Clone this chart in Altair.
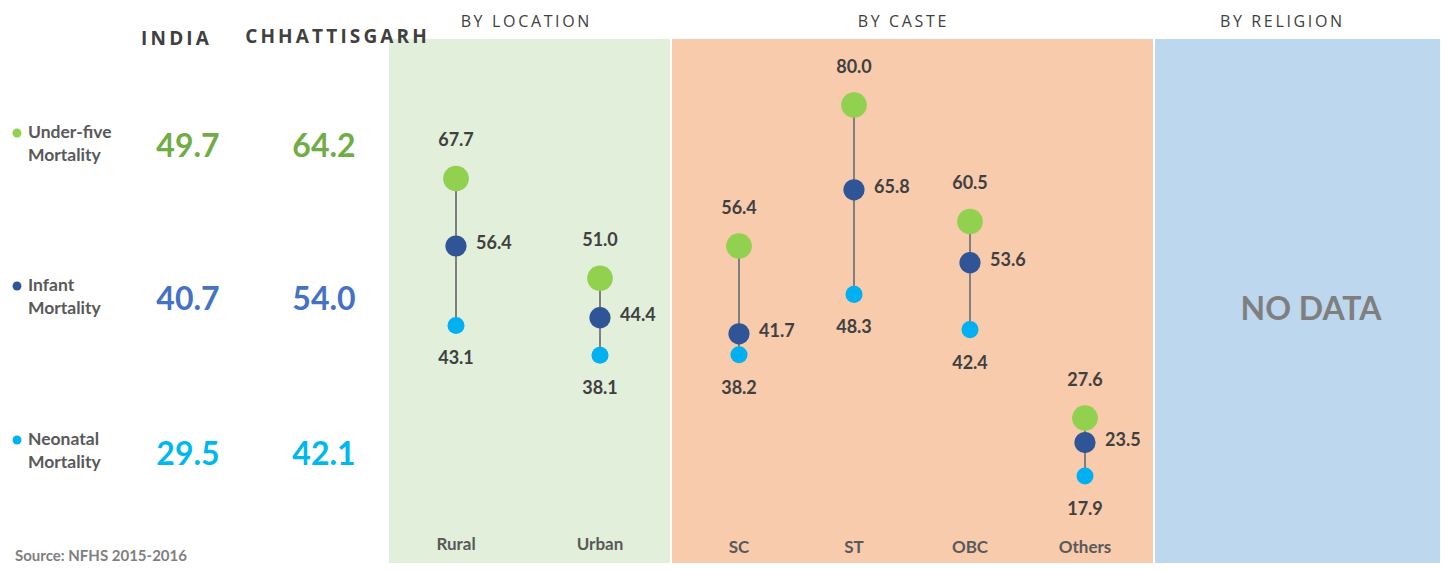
import altair as alt
import pandas as pd

# ---------------- data ----------------
categories = ["Rural", "Urban", "SC", "ST", "OBC", "Others"]
under_five = [67.7, 51.0, 56.4, 80.0, 60.5, 27.6]
infant = [56.4, 44.4, 41.7, 65.8, 53.6, 23.5]
neonatal = [43.1, 38.1, 38.2, 48.3, 42.4, 17.9]

measure_names = ["Under-five", "Infant", "Neonatal"]
india = [49.7, 40.7, 29.5]
chhattisgarh = [64.2, 54.0, 42.1]

panel_titles = ["BY LOCATION", "BY CASTE", "BY RELIGION"]
column_titles = ["INDIA", "CHHATTISGARH"]
no_data_text = "NO DATA"
source_text = "Source: NFHS 2015-2016"

# ---------------- layout / style ----------------
W, H = 1432, 555
OFF = 8
cat_x = [456, 600, 739, 854, 970, 1085]
panel_x0 = [389, 672, 1155]
panel_x1 = [670, 1153, 1440]
panel_top, panel_bottom = 39, 563
panel_colors = ["#E2EFDA", "#F8CBAD", "#BDD7EE"]
panel_title_x = [525, 902, 1281]
dot_colors = ["#92D050", "#2F5597", "#00B0F0"]
dot_sizes = [660, 450, 290]
value_colors = ["#70AD47", "#4472C4", "#00B8F0"]
row_y = [147, 300, 455]
label_row_y = [133, 286, 440]
TXT = "#404040"
GRAY = "#595959"

xs = alt.Scale(domain=[OFF, OFF + W], nice=False, zero=False)
ypx = alt.Scale(domain=[OFF, OFF + H], reverse=True, nice=False, zero=False)
# value scale: 80 -> ref y 105, 5.974 px per unit
yval = alt.Scale(domain=[80 - (H + OFF - 105) / 5.974, 80 + (105 - OFF) / 5.974],
                 nice=False, zero=False)

def X(f):
    return alt.X(f, scale=xs, axis=None)

def Ypx(f):
    return alt.Y(f, scale=ypx, axis=None)

def Yv(f):
    return alt.Y(f, scale=yval, axis=None)

def spaced(s):
    return "\u2009".join(list(s))

# backgrounds
bg_df = pd.DataFrame({"x0": panel_x0, "x1": panel_x1, "y0": [panel_top] * 3,
                      "y1": [panel_bottom] * 3, "c": panel_colors})
bg = alt.Chart(bg_df).mark_rect().encode(
    x=X("x0:Q"), x2="x1:Q", y=Ypx("y0:Q"), y2="y1:Q",
    color=alt.Color("c:N", scale=None))

# dumbbell data
wide = pd.DataFrame({"cat": categories, "x": cat_x, "u": under_five,
                     "i": infant, "n": neonatal})
rows = []
for k, (name, vals) in enumerate(zip(measure_names, [under_five, infant, neonatal])):
    for c, xv, v in zip(categories, cat_x, vals):
        rows.append({"cat": c, "x": xv, "v": v, "m": name, "ord": k,
                     "col": dot_colors[k], "sz": dot_sizes[k], "lbl": f"{v:.1f}"})
long = pd.DataFrame(rows)

rule = alt.Chart(wide).mark_rule(color="#7F7F7F", strokeWidth=2).encode(
    x=X("x:Q"), y=Yv("u:Q"), y2="n:Q")

dots = alt.Chart(long).mark_circle(opacity=1).encode(
    x=X("x:Q"), y=Yv("v:Q"),
    color=alt.Color("col:N", scale=None),
    size=alt.Size("sz:Q", scale=None),
    order=alt.Order("ord:Q"))

lab_font = dict(font="Lato", fontWeight="bold", fontSize=18, color=TXT, baseline="middle")
lab_u = alt.Chart(long[long.m == "Under-five"]).mark_text(align="center", dy=-37, **lab_font).encode(
    x=X("x:Q"), y=Yv("v:Q"), text="lbl:N")
lab_i = alt.Chart(long[long.m == "Infant"]).mark_text(align="left", dx=20, dy=-2, **lab_font).encode(
    x=X("x:Q"), y=Yv("v:Q"), text="lbl:N")
lab_n = alt.Chart(long[long.m == "Neonatal"]).mark_text(align="center", dy=34, **lab_font).encode(
    x=X("x:Q"), y=Yv("v:Q"), text="lbl:N")

# category labels
cat_y = [545, 545, 548, 548, 548, 548]
cat_df = pd.DataFrame({"x": cat_x, "y": cat_y, "t": categories})
cat_lab = alt.Chart(cat_df).mark_text(font="Lato", fontWeight="bold", fontSize=17,
                                      color=GRAY, baseline="middle").encode(
    x=X("x:Q"), y=Ypx("y:Q"), text="t:N")

# panel titles
pt_df = pd.DataFrame({"x": panel_title_x, "y": [22] * 3, "t": [spaced(s) for s in panel_titles]})
pt = alt.Chart(pt_df).mark_text(font="Open Sans", fontSize=16, color=TXT,
                                baseline="middle").encode(
    x=X("x:Q"), y=Ypx("y:Q"), text="t:N")

# column titles
ct_df = pd.DataFrame({"x": [175, 336], "y": [39, 37], "t": [spaced(s) for s in column_titles]})
ct = alt.Chart(ct_df).mark_text(font="Open Sans", fontWeight="bold", fontSize=19, color=TXT,
                                baseline="middle").encode(
    x=X("x:Q"), y=Ypx("y:Q"), text="t:N")

# big values
bv_rows = []
for k in range(3):
    bv_rows.append({"x": 188, "y": row_y[k], "t": f"{india[k]:.1f}", "c": value_colors[k]})
    bv_rows.append({"x": 324, "y": row_y[k], "t": f"{chhattisgarh[k]:.1f}", "c": value_colors[k]})
bv = alt.Chart(pd.DataFrame(bv_rows)).mark_text(font="Lato", fontWeight="bold", fontSize=32,
                                                baseline="middle").encode(
    x=X("x:Q"), y=Ypx("y:Q"), text="t:N", color=alt.Color("c:N", scale=None))

# legend-like row labels
rl_rows = []
for k in range(3):
    rl_rows.append({"x": 28, "y": label_row_y[k], "t": measure_names[k]})
    rl_rows.append({"x": 28, "y": label_row_y[k] + 23, "t": "Mortality"})
rl = alt.Chart(pd.DataFrame(rl_rows)).mark_text(font="Lato", fontWeight="bold", fontSize=17.5,
                                                color=GRAY, align="left", baseline="middle").encode(
    x=X("x:Q"), y=Ypx("y:Q"), text="t:N")
ld = alt.Chart(pd.DataFrame({"x": [17] * 3, "y": label_row_y, "c": dot_colors})).mark_circle(
    size=80, opacity=1).encode(x=X("x:Q"), y=Ypx("y:Q"), color=alt.Color("c:N", scale=None))

# no data and source
nd = alt.Chart(pd.DataFrame({"x": [1311], "y": [310], "t": [no_data_text]})).mark_text(
    font="Lato", fontWeight="bold", fontSize=32, color="#7F7F7F", baseline="middle").encode(
    x=X("x:Q"), y=Ypx("y:Q"), text="t:N")
src = alt.Chart(pd.DataFrame({"x": [15], "y": [556], "t": [source_text]})).mark_text(
    font="Lato", fontWeight="bold", fontSize=15, color="#7F7F7F", align="left",
    baseline="middle").encode(x=X("x:Q"), y=Ypx("y:Q"), text="t:N")

chart = alt.layer(bg, rule, dots, lab_u, lab_i, lab_n, cat_lab, pt, ct, bv, rl, ld, nd, src
                  ).resolve_scale(y="independent").properties(
    width=W, height=H, padding=0, autosize=alt.AutoSizeParams(type="none"),
    background="white"
).configure_view(stroke=None)

chart.save("out.html", embed_options={"renderer": "svg", "actions": False})
